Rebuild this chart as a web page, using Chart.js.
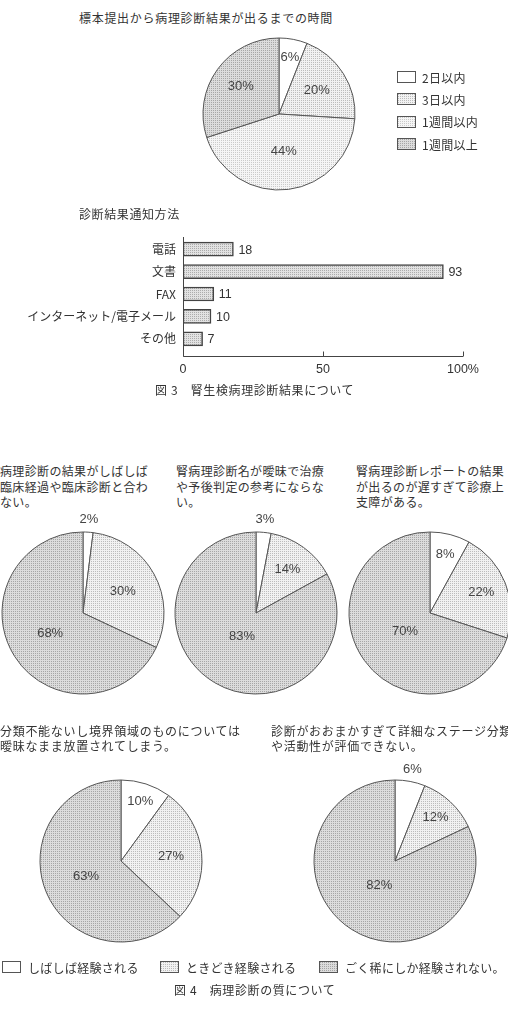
<!DOCTYPE html>
<html lang="ja">
<head>
<meta charset="utf-8">
<script src="https://cdn.jsdelivr.net/npm/chart.js@4.4.1/dist/chart.umd.min.js"></script>
<style>
  html, body { margin: 0; padding: 0; background: #fff; }
  body { width: 508px; height: 1031px; position: relative; overflow: hidden;
         font-family: "Noto Sans CJK JP", sans-serif; color: #333; font-size: 12px; }
  .t { position: absolute; white-space: nowrap; line-height: 16px; letter-spacing: 0.4px; }
  canvas { position: absolute; }
  .lg { position: absolute; display: flex; align-items: center; white-space: nowrap; height: 16px; letter-spacing: 0.3px; }
  .sw { width: 19px; height: 12px; border: 1px solid #555; box-sizing: border-box; margin-right: 6px; }
</style>
</head>
<body>
<script>
// データ
const timeLabels = ['2日以内', '3日以内', '1週間以内', '1週間以上'];
const timeValues = [6, 20, 44, 30];

const methodLabels = ['電話', '文書', 'FAX', 'インターネット/電子メール', 'その他'];
const methodValues = [18, 93, 11, 10, 7];
const xTicks = [0, 50, 100];

const freqLabels = ['しばしば経験される', 'ときどき経験される', 'ごく稀にしか経験されない。'];
const q1Values = [2, 30, 68];
const q2Values = [3, 14, 83];
const q3Values = [8, 22, 70];
const q4Values = [10, 27, 63];
const q5Values = [6, 12, 82];

// 模様（網点）
function tile(bg, dot) {
  const c = document.createElement('canvas');
  c.width = 2; c.height = 2;
  const g = c.getContext('2d');
  g.fillStyle = bg; g.fillRect(0, 0, 2, 2);
  g.fillStyle = dot; g.fillRect(0, 0, 1, 1);
  return c;
}
const pctx = document.createElement('canvas').getContext('2d');
const whiteTile = tile('#ffffff', '#ffffff');
const lightTile = tile('#f2f2f2', '#bdbdbd');
const light2Tile = tile('#f5f5f5', '#cacaca');
const darkTile = tile('#dcdcdc', '#a6a6a6');
const barTile = tile('#e2e2e2', '#acacac');
const pat = t => pctx.createPattern(t, 'repeat');

function text(str, left, top, extra) {
  const d = document.createElement('div');
  d.className = 't';
  d.style.left = left + 'px';
  d.style.top = top + 'px';
  if (extra) Object.assign(d.style, extra);
  d.innerHTML = str;
  document.body.appendChild(d);
}

function legendItem(label, t, left, top, textGap) {
  const d = document.createElement('div');
  d.className = 'lg';
  d.style.left = left + 'px';
  d.style.top = top + 'px';
  const sw = document.createElement('div');
  sw.className = 'sw';
  sw.style.backgroundImage = 'url(' + t.toDataURL() + ')';
  sw.style.marginRight = textGap + 'px';
  d.appendChild(sw);
  d.appendChild(document.createTextNode(label));
  document.body.appendChild(d);
}

// パーセント表示
const pctPlugin = {
  id: 'pctLabels',
  afterDatasetsDraw(chart, args, opts) {
    const ctx = chart.ctx;
    const meta = chart.getDatasetMeta(0);
    const vals = chart.data.datasets[0].data;
    ctx.save();
    ctx.font = '13px "Liberation Sans", Arial, sans-serif';
    ctx.fillStyle = '#444';
    ctx.textAlign = 'center';
    ctx.textBaseline = 'middle';
    meta.data.forEach((arc, i) => {
      const a = (arc.startAngle + arc.endAngle) / 2;
      const d = arc.outerRadius * opts.radii[i];
      ctx.fillText(vals[i] + '%', arc.x + Math.cos(a) * d, arc.y + Math.sin(a) * d);
    });
    ctx.restore();
  }
};

function pie(cx, cy, r, values, labels, tiles, radii) {
  const size = 240;
  const cv = document.createElement('canvas');
  cv.width = size; cv.height = size;
  cv.style.left = (cx - size / 2) + 'px';
  cv.style.top = (cy - size / 2) + 'px';
  document.body.appendChild(cv);
  new Chart(cv, {
    type: 'pie',
    data: {
      labels: labels,
      datasets: [{ data: values, backgroundColor: tiles.map(pat), borderColor: '#555', borderWidth: 1 }]
    },
    options: {
      responsive: false,
      animation: false,
      radius: r,
      events: [],
      plugins: { legend: { display: false }, tooltip: { enabled: false }, pctLabels: { radii: radii } }
    },
    plugins: [pctPlugin]
  });
}

// 図3 上：円グラフ
text('標本提出から病理診断結果が出るまでの時間', 79, 10, { letterSpacing: '0.7px' });
const timeTiles = [whiteTile, lightTile, light2Tile, darkTile];
pie(279, 114, 76, timeValues, timeLabels, timeTiles, [0.76, 0.59, 0.5, 0.62]);
timeLabels.forEach((l, i) => legendItem(l, timeTiles[i], 397, 69 + i * 22.4, 6));

// 図3 下：横棒グラフ
text('診断結果通知方法', 79, 206, { letterSpacing: '0.6px' });

const axisPlugin = {
  id: 'axisLines',
  afterDraw(chart) {
    const { ctx, chartArea: a, scales: { x } } = chart;
    const yb = Math.round(a.bottom + 6) + 0.5;
    const xl = Math.round(a.left) + 0.5;
    ctx.save();
    ctx.strokeStyle = '#444';
    ctx.lineWidth = 1;
    ctx.beginPath();
    ctx.moveTo(xl, a.top - 1);
    ctx.lineTo(xl, yb);
    ctx.lineTo(x.getPixelForValue(xTicks[xTicks.length - 1]), yb);
    xTicks.forEach(v => {
      const px = Math.round(x.getPixelForValue(v)) + 0.5;
      ctx.moveTo(px, yb);
      ctx.lineTo(px, yb - 5);
    });
    ctx.stroke();
    ctx.restore();
  }
};
const valuePlugin = {
  id: 'barValues',
  afterDatasetsDraw(chart) {
    const ctx = chart.ctx;
    const meta = chart.getDatasetMeta(0);
    const vals = chart.data.datasets[0].data;
    ctx.save();
    ctx.font = '12.5px "Liberation Sans", Arial, sans-serif';
    ctx.fillStyle = '#333';
    ctx.textBaseline = 'middle';
    meta.data.forEach((b, i) => ctx.fillText(vals[i], b.x + 5, b.y + 1));
    ctx.restore();
  }
};

const barCv = document.createElement('canvas');
barCv.width = 508; barCv.height = 190;
barCv.style.left = '0px'; barCv.style.top = '200px';
document.body.appendChild(barCv);
new Chart(barCv, {
  type: 'bar',
  data: {
    labels: methodLabels,
    datasets: [{
      data: methodValues,
      backgroundColor: pat(barTile),
      borderColor: '#444',
      borderWidth: 1.5,
      borderSkipped: false,
      barThickness: 14
    }]
  },
  options: {
    indexAxis: 'y',
    responsive: false,
    animation: false,
    events: [],
    layout: { padding: { top: 38, right: 45, left: 0, bottom: 0 } },
    scales: {
      x: {
        min: 0, max: 100,
        afterBuildTicks: s => { s.ticks = xTicks.map(v => ({ value: v })); },
        afterFit: s => { s.height = 40; },
        grid: { display: false, drawTicks: false },
        border: { display: false },
        ticks: {
          padding: 12,
          maxRotation: 0,
          color: '#333',
          font: { family: '"Liberation Sans", Arial, sans-serif', size: 12.5 },
          callback: v => v === 100 ? v + '%' : v
        }
      },
      y: {
        afterFit: s => { s.width = 183; },
        grid: { display: false, drawTicks: false },
        border: { display: false },
        ticks: {
          padding: 7,
          color: '#333',
          font: { family: '"Noto Sans CJK JP", sans-serif', size: 12 }
        }
      }
    },
    plugins: { legend: { display: false }, tooltip: { enabled: false } }
  },
  plugins: [axisPlugin, valuePlugin]
});

text('図 3　腎生検病理診断結果について', 155, 382, { letterSpacing: '0.6px' });

// 図4
const freqTiles = [whiteTile, lightTile, darkTile];
const qStyle = { lineHeight: '15.5px', letterSpacing: '0.35px' };
text('病理診断の結果がしばしば<br>臨床経過や臨床診断と合わ<br>ない。', 0, 463, qStyle);
text('腎病理診断名が曖昧で治療<br>や予後判定の参考にならな<br>い。', 176, 463, qStyle);
text('腎病理診断レポートの結果<br>が出るのが遅すぎて診療上<br>支障がある。', 356, 463, qStyle);

pie(83, 613, 81, q1Values, freqLabels, freqTiles, [1.16, 0.56, 0.48]);
pie(256, 613, 81, q2Values, freqLabels, freqTiles, [1.16, 0.66, 0.34]);
pie(430, 613, 81, q3Values, freqLabels, freqTiles, [0.75, 0.68, 0.38]);

const q2Style = { lineHeight: '14.5px', letterSpacing: '0.7px' };
text('分類不能ないし境界領域のものについては<br>曖昧なまま放置されてしまう。', 0, 724, q2Style);
text('診断がおおまかすぎて詳細なステージ分類<br>や活動性が評価できない。', 271, 724, q2Style);

pie(121, 861, 81, q4Values, freqLabels, freqTiles, [0.77, 0.62, 0.47]);
pie(395, 861, 81, q5Values, freqLabels, freqTiles, [1.15, 0.73, 0.36]);

const freqLeft = [2, 160, 319];
freqLabels.forEach((l, i) => legendItem(l, freqTiles[i], freqLeft[i], 959, 7));

text('図 4　病理診断の質について', 174, 982, { letterSpacing: '0.6px' });
</script>
</body>
</html>
